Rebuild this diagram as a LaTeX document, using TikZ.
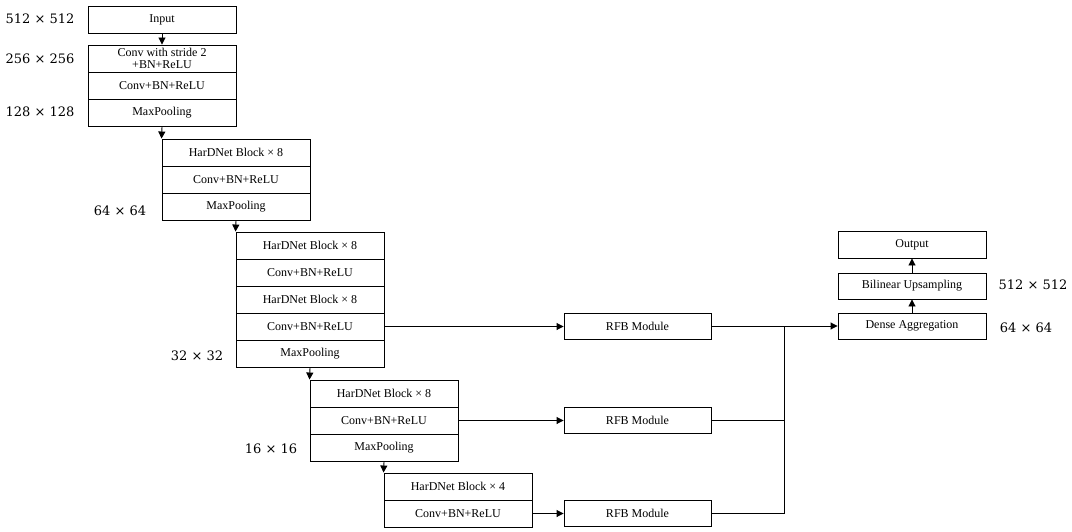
\documentclass[tikz,border=0pt]{standalone}
\usepackage{fontspec}
\setmainfont{Liberation Serif}
\newfontfamily\labfont{DejaVu Serif}
\usetikzlibrary{arrows.meta}
\tikzset{
  box/.style={draw, line width=0.9pt, minimum width=148pt, minimum height=27pt, inner sep=0pt,
    font=\fontsize{12}{12.5}\selectfont, align=center},
  lab/.style={font=\labfont\fontsize{13}{14}\selectfont, inner sep=0pt},
  arr/.style={line width=0.9pt, -{Triangle[length=7pt,width=7pt]}},
  ln/.style={line width=0.9pt}
}
\begin{document}
\begin{tikzpicture}[x=1pt,y=-1pt]
\useasboundingbox (0,0) rectangle (1072,532);
% column 1
\node[box] (in) at (162,19.5) {Input};
\node[box] (b1a) at (162,58.5) {Conv with stride 2\\+BN+ReLU};
\node[box] (b1b) at (162,85.5) {Conv+BN+ReLU};
\node[box] (b1c) at (162,112.5) {MaxPooling};
% block 2
\node[box] (b2a) at (236,152.5) {HarDNet Block × 8};
\node[box] (b2b) at (236,179.5) {Conv+BN+ReLU};
\node[box] (b2c) at (236,206.5) {MaxPooling};
% block 3
\node[box] (b3a) at (310,245.5) {HarDNet Block × 8};
\node[box] (b3b) at (310,272.5) {Conv+BN+ReLU};
\node[box] (b3c) at (310,299.5) {HarDNet Block × 8};
\node[box] (b3d) at (310,326.5) {Conv+BN+ReLU};
\node[box] (b3e) at (310,353.5) {MaxPooling};
% block 4
\node[box] (b4a) at (384,393.5) {HarDNet Block × 8};
\node[box] (b4b) at (384,420.5) {Conv+BN+ReLU};
\node[box] (b4c) at (384,447.5) {MaxPooling};
% block 5
\node[box] (b5a) at (458,486.5) {HarDNet Block × 4};
\node[box] (b5b) at (458,513.5) {Conv+BN+ReLU};
% RFB
\node[box, minimum width=147pt, minimum height=26pt] (r1) at (637.5,326) {RFB Module};
\node[box, minimum width=147pt, minimum height=26pt] (r2) at (637.5,420) {RFB Module};
\node[box, minimum width=147pt, minimum height=26pt] (r3) at (637.5,513) {RFB Module};
% right column
\node[box, minimum height=26pt] (da) at (912,326) {Dense Aggregation};
\node[box, minimum height=26pt] (bu) at (912,286) {Bilinear Upsampling};
\node[box] (out) at (912,244.5) {Output};
\coordinate (j) at (784,326);
% arrows
\draw[arr] (in.south) -- (b1a.north);
\draw[arr] (b1c.south) -- (b2a.north west);
\draw[arr] (b2c.south) -- (b3a.north west);
\draw[arr] (b3e.south) -- (b4a.north west);
\draw[arr] (b4c.south) -- (b5a.north west);
\draw[arr] (b3d.east) -- (b3d.east -| r1.west);
\draw[arr] (b4b.east) -- (b4b.east -| r2.west);
\draw[arr] (b5b.east) -- (b5b.east -| r3.west);
\draw[ln] (r1.east) -- (j);
\draw[ln] (r2.east) -| (j);
\draw[ln] (r3.east) -| (j);
\draw[arr] (j) -- (da.west);
\draw[arr] (da.north) -- (bu.south);
\draw[arr] (bu.north) -- (out.south);
% size labels
\node[lab] (l1) at (40,19) {512 × 512};
\node[lab] (l2) at (40,59) {256 × 256};
\node[lab] (l3) at (40,112) {128 × 128};
\node[lab] (l4) at (120,211) {64 × 64};
\node[lab] (l5) at (197,356) {32 × 32};
\node[lab] (l6) at (271,449) {16 × 16};
\node[lab] (l7) at (1033,285) {512 × 512};
\node[lab] (l8) at (1026,328) {64 × 64};
\end{tikzpicture}
\end{document}
